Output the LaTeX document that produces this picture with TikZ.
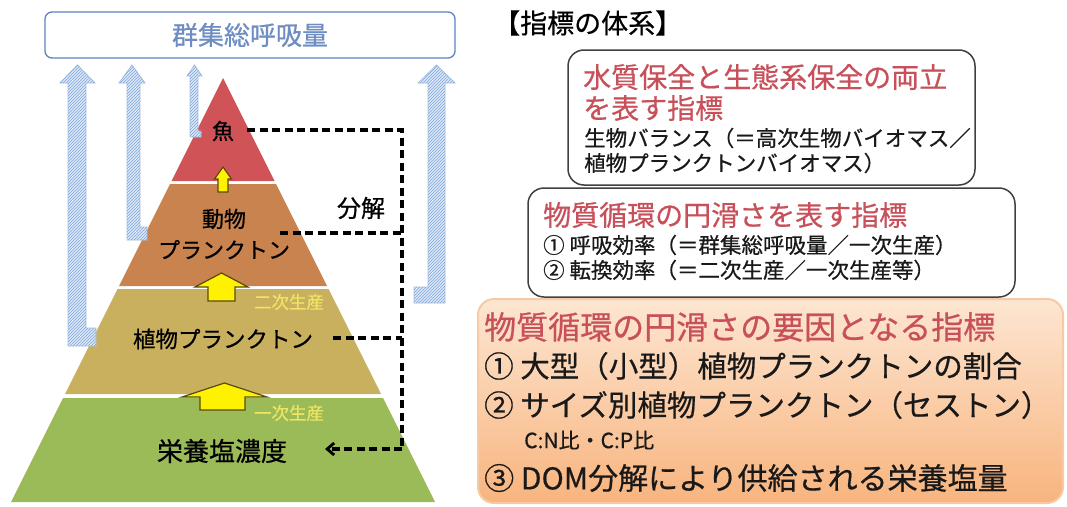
\documentclass[tikz,border=0pt]{standalone}
\usepackage{fontspec}
\setmainfont{Noto Sans CJK JP}[FakeBold=0.6]
\usetikzlibrary{patterns,arrows.meta}
\definecolor{fishc}{HTML}{D05457}
\definecolor{zooc}{HTML}{C8834F}
\definecolor{phyc}{HTML}{C9B05E}
\definecolor{nutc}{HTML}{9BBB59}
\definecolor{hatchbg}{HTML}{DCE8F7}
\definecolor{hatchln}{HTML}{7FA6DA}
\definecolor{hatchdr}{HTML}{A9BFDF}
\definecolor{topdraw}{HTML}{5F82BE}
\definecolor{toptext}{HTML}{6E8DC2}
\definecolor{redtxt}{HTML}{C8505A}
\definecolor{ylab}{HTML}{F0E464}
\definecolor{boxdraw}{HTML}{404040}
\definecolor{peachtop}{HTML}{FDE6D2}
\definecolor{peachbot}{HTML}{F8B47E}
\definecolor{peachdr}{HTML}{F6CBA4}
\definecolor{yarrdr}{HTML}{5A4A10}
\newcommand{\fs}[1]{\fontsize{#1}{#1}\selectfont}
\begin{document}
\begin{tikzpicture}[x=1pt,y=-1pt,
  lbl/.style={inner sep=0pt, text=black},
  hatcharrow/.style={fill=hatchbg, draw=hatchdr, line width=0.8pt,
     postaction={pattern=north east lines, pattern color=hatchln}},
  yarrow/.style={fill=yellow, draw=yarrdr, line width=1.2pt, line join=miter},
  decomp/.style={line width=3.6pt, dash pattern=on 8pt off 4.5pt},
  ibox/.style={draw=boxdraw, line width=1.5pt, rounded corners=16pt, fill=white},
  redl/.style={inner sep=0pt, anchor=west, text=redtxt},
  blkl/.style={inner sep=0pt, anchor=west, text=black!90}]
\useasboundingbox (0,0) rectangle (1067,506);
\fill[white] (0,0) rectangle (1067,506);

% ---- top box
\node[draw=topdraw, line width=1.3pt, rounded corners=7pt, minimum width=410pt,
  minimum height=46pt, text=toptext, font=\fs{26}] (resp) at (250,35) {群集総呼吸量};

% ---- pyramid layers
\fill[fishc] (223,78) -- (274.5,181) -- (171.5,181) -- cycle;
\fill[zooc] (170,184) -- (276,184) -- (327,286) -- (119,286) -- cycle;
\fill[phyc] (117.5,289) -- (328.5,289) -- (381,394) -- (65,394) -- cycle;
\fill[nutc] (63,398) -- (383,398) -- (435,502) -- (11,502) -- cycle;

% ---- blue hatched arrows
\path[hatcharrow] (77.5,65) -- (95,83) -- (86,83) -- (86,328) -- (96,328) -- (96,346)
  -- (68,346) -- (68,83) -- (60,83) -- cycle;
\path[hatcharrow] (132,65) -- (145,83) -- (140,83) -- (140,227) -- (147,227) -- (147,240)
  -- (127,240) -- (127,83) -- (119,83) -- cycle;
\path[hatcharrow] (194.5,65) -- (202,76) -- (198,76) -- (198,131) -- (201,131) -- (201,137)
  -- (190,137) -- (190,76) -- (187,76) -- cycle;
\path[hatcharrow] (436.5,65) -- (455,83) -- (445,83) -- (445,303) -- (414,303) -- (414,287)
  -- (428,287) -- (428,83) -- (418,83) -- cycle;

% ---- yellow arrows
\path[yarrow] (223,167) -- (231.5,179) -- (228,179) -- (228,192) -- (218,192) -- (218,179)
  -- (214.5,179) -- cycle;
\path[yarrow] (221.5,273) -- (248,287) -- (235,287) -- (235,301) -- (208,301) -- (208,287)
  -- (195,287) -- cycle;
\path[yarrow] (224.5,383) -- (267,397) -- (245,397) -- (245,410) -- (200,410) -- (200,397)
  -- (182,397) -- cycle;

% ---- pyramid labels
\node[lbl, font=\fs{22}] (fish) at (223,131) {魚};
\node[lbl, font=\fs{22}, align=center] (zoo) at (224,234) {動物\\[9pt]プランクトン};
\node[lbl, font=\fs{22.5}] (phyto) at (223,339) {植物プランクトン};
\node[lbl, font=\fs{26}] (nutr) at (222,451) {栄養塩濃度};
\node[lbl, font=\fs{17.5}, text=ylab] (sec) at (289,302) {二次生産};
\node[lbl, font=\fs{17.5}, text=ylab] (pri) at (289,413) {一次生産};
\node[lbl, font=\fs{24}] (decl) at (361,208) {分解};

% ---- decomposition dashed lines
\coordinate (c1) at (402,130);
\coordinate (c2) at (402,233);
\coordinate (c3) at (402,338);
\coordinate (c4) at (402,449);
\coordinate (tip) at (325,449);
\draw[decomp] ([xshift=13pt]fish.east |- c1) -- (c1) -- (c4);
\draw[decomp] (280,233) -- (c2);
\draw[decomp] ([xshift=20pt]phyto.east |- c3) -- (c3);
\draw[decomp, -{Straight Barb[length=7pt,width=12pt,line width=2.8pt]}] (c4) -- (tip);

% ---- right side
\node[inner sep=0pt, anchor=west, font=\fs{27}, text=black] (title) at (493,23) {【指標の体系】};

\draw[ibox] (568,50) rectangle (975,185);
\node[redl, font=\fs{28}] (r1a) at (583,77) {水質保全と生態系保全の両立};
\node[redl, font=\fs{28}] (r1b) at (583,108) {を表す指標};
\node[blkl, font=\fs{21.5}] (b1a) at (584,138) {生物バランス（＝高次生物バイオマス／};
\node[blkl, font=\fs{21.5}] (b1b) at (584,163) {植物プランクトンバイオマス）};

\draw[ibox] (528,188) rectangle (1015,297);
\node[redl, font=\fs{28}] (r2) at (543,215) {物質循環の円滑さを表す指標};
\node[blkl, font=\fs{21.5}] (b2a) at (543,245) {① 呼吸効率（＝群集総呼吸量／一次生産）};
\node[blkl, font=\fs{21.5}] (b2b) at (543,270) {② 転換効率（＝二次生産／一次生産等）};

\shade[top color=peachtop, bottom color=peachbot, draw=peachdr, line width=2pt,
  rounded corners=16pt] (478,299) rectangle (1063,503);
\node[redl, font=\fs{32}] (r3) at (484,327) {物質循環の円滑さの要因となる指標};
\node[blkl, font=\fs{29.5}] (b3a) at (484,366) {① 大型（小型）植物プランクトンの割合};
\node[blkl, font=\fs{29.5}] (b3b) at (484,405) {② サイズ別植物プランクトン（セストン）};
\node[blkl, font=\fs{21}] (b3c) at (524,440) {C:N比・C:P比};
\node[blkl, font=\fs{30}] (b3d) at (484,478) {③ DOM分解により供給される栄養塩量};
\end{tikzpicture}
\end{document}
